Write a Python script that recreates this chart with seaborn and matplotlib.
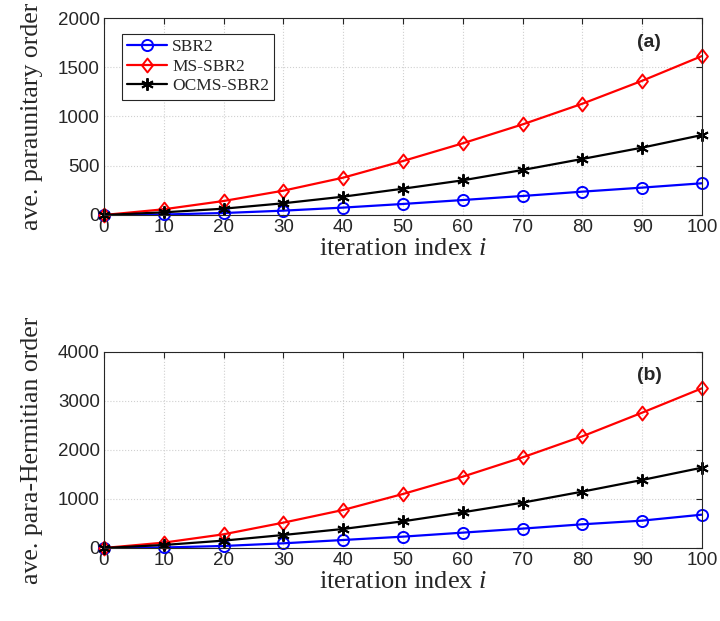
import matplotlib
matplotlib.use("Agg")
import matplotlib.pyplot as plt
from matplotlib.path import Path
import seaborn as sns
import pandas as pd

iterations = [0, 10, 20, 30, 40, 50, 60, 70, 80, 90, 100]
series_names = ["SBR2", "MS-SBR2", "OCMS-SBR2"]

pu_sbr2 = [0, 5, 20, 44, 75, 112, 152, 193, 237, 278, 322]
pu_ms = [0, 58, 142, 247, 379, 548, 728, 920, 1130, 1363, 1614]
pu_ocms = [0, 27, 64, 119, 186, 267, 352, 457, 569, 684, 812]

ph_sbr2 = [0, 10, 41, 95, 163, 231, 313, 395, 483, 558, 680]
ph_ms = [0, 109, 279, 517, 776, 1102, 1456, 1850, 2279, 2762, 3259]
ph_ocms = [0, 61, 150, 265, 388, 544, 728, 925, 1150, 1388, 1639]

sns.set_style("white")
plt.rcParams['font.family'] = ['Liberation Sans', 'DejaVu Sans']
plt.rcParams['mathtext.fontset'] = 'custom'
plt.rcParams['mathtext.it'] = 'Liberation Serif:italic'
plt.rcParams['mathtext.rm'] = 'Liberation Serif'

diamond = Path([(0, 1), (0.78, 0), (0, -1), (-0.78, 0), (0, 1)],
               [Path.MOVETO, Path.LINETO, Path.LINETO, Path.LINETO, Path.CLOSEPOLY])

colors = {"SBR2": "#0000ff", "MS-SBR2": "#ff0000", "OCMS-SBR2": "#000000"}
markers = {"SBR2": "o", "MS-SBR2": diamond, "OCMS-SBR2": (6, 2, 0)}
msizes = {"SBR2": 8, "MS-SBR2": 10, "OCMS-SBR2": 9}

def long_df(a, b, c):
    rows = []
    for name, vals in zip(series_names, [a, b, c]):
        for x, y in zip(iterations, vals):
            rows.append({"it": x, "val": y, "alg": name})
    return pd.DataFrame(rows)

fig = plt.figure(figsize=(7.2, 6.21), dpi=100)
ax1 = fig.add_axes([0.1444, 0.6538, 0.8306, 0.3172])
ax2 = fig.add_axes([0.1444, 0.1176, 0.8306, 0.3156])

datasets = [(ax1, long_df(pu_sbr2, pu_ms, pu_ocms), 2000, [0, 500, 1000, 1500, 2000],
             "ave. paraunitary order", "(a)"),
            (ax2, long_df(ph_sbr2, ph_ms, ph_ocms), 4000, [0, 1000, 2000, 3000, 4000],
             "ave. para-Hermitian order", "(b)")]

for ax, df, ymax, yt, ylab, tag in datasets:
    for name in series_names:
        sub = df[df.alg == name]
        sns.lineplot(data=sub, x="it", y="val", ax=ax, color=colors[name],
                     marker=markers[name], markersize=msizes[name],
                     markerfacecolor="none" if name != "OCMS-SBR2" else colors[name],
                     markeredgecolor=colors[name], markeredgewidth=1.4,
                     linewidth=1.6, label=name, legend=False, clip_on=False)
    ax.set_xlim(0, 100)
    ax.set_ylim(0, ymax)
    ax.set_xticks(iterations)
    ax.set_yticks(yt)
    ax.tick_params(direction="in", length=4, labelsize=13.5, colors="#262626",
                   top=True, right=True, pad=3)
    ax.grid(True, linestyle=":", color="#d0d0d0", linewidth=0.8)
    for s in ax.spines.values():
        s.set_color("#262626")
        s.set_linewidth(0.8)
    ax.set_xlabel("iteration index $i$", fontsize=19, family="Liberation Serif",
                  labelpad=1)
    ax.set_ylabel(ylab, fontsize=18.5, family="Liberation Serif", labelpad=11)
    ax.text(0.912, 0.878, tag, transform=ax.transAxes, fontsize=14, fontweight="bold",
            ha="center", va="center")

leg = ax1.legend(loc="upper left", bbox_to_anchor=(0.03, 0.92), frameon=True,
                 fancybox=False, edgecolor="#262626", framealpha=1,
                 prop={"family": "Liberation Serif", "size": 12.5},
                 handlelength=2.3, borderpad=0.3, labelspacing=0.2,
                 handletextpad=0.3, borderaxespad=0)
leg.get_frame().set_linewidth(0.8)

fig.savefig("out.png", dpi=100)
